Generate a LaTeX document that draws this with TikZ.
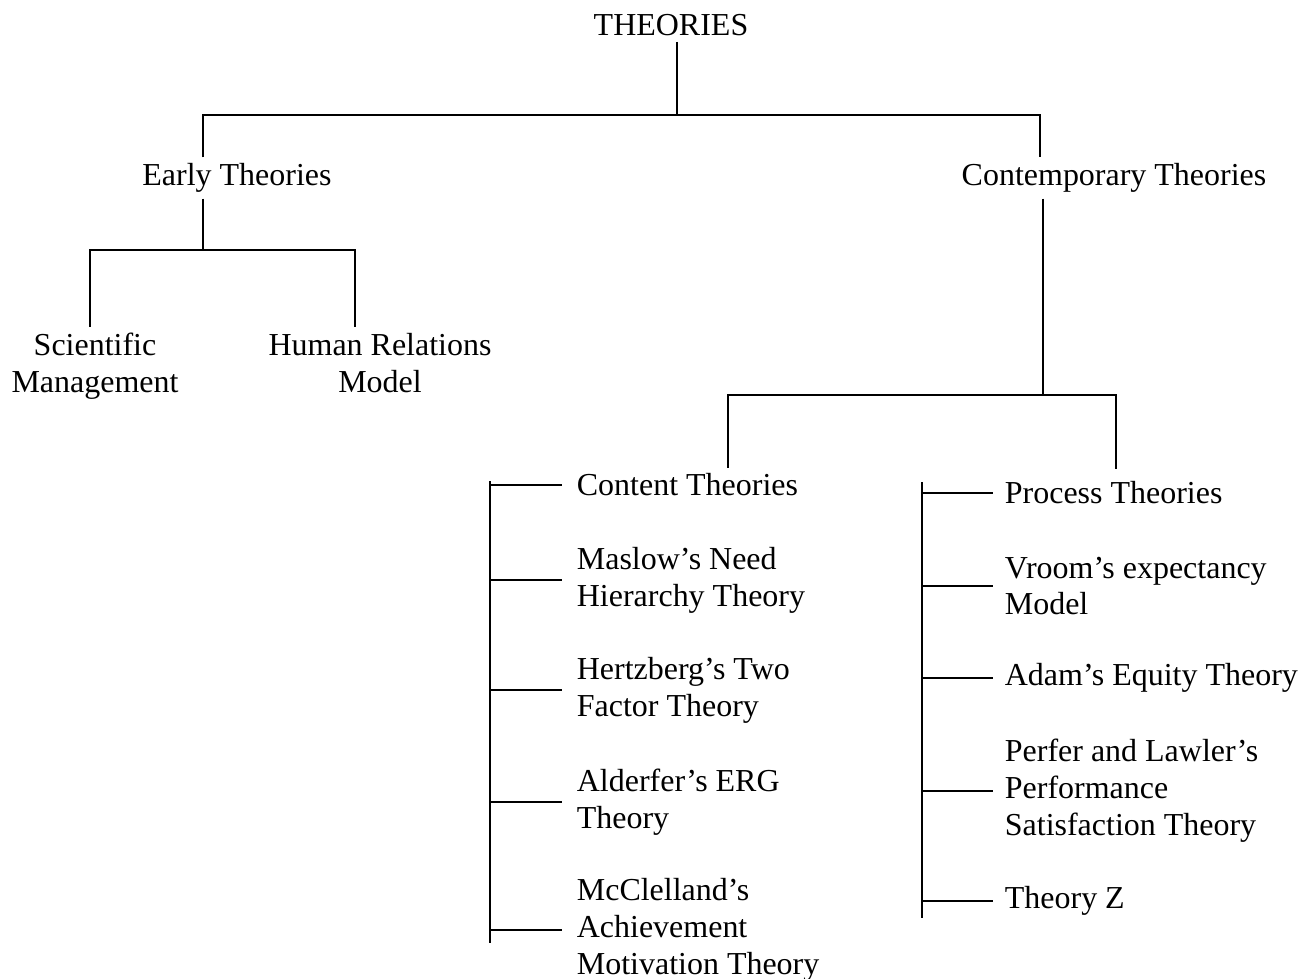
\documentclass[tikz,border=0pt]{standalone}
\usepackage{fontspec}
\setmainfont{Liberation Serif}
\usetikzlibrary{calc}

\tikzset{
	ttl/.style={inner sep=3pt, align=center, font=\fontsize{18.2}{21}\selectfont},
	leaf/.style={inner sep=0pt, anchor=west, align=left, font=\fontsize{18.2}{21}\selectfont}
}

\begin{document}
\begin{tikzpicture}[x=0.02cm,y=-0.02cm,line width=1pt]
			\useasboundingbox (0,0) rectangle (1310,979);
			%first levels
			\node[ttl] (theories) at (671,25) {THEORIES};
			\node[ttl] (early) at (237,178) {Early Theories};
			\node[ttl] (contemp) at (1114,178) {Contemporary Theories};
			\node[ttl] (sci) at (95,366) {Scientific\\Management};
			\node[ttl] (human) at (380,363) {Human Relations\\Model};
			%junctions
			\coordinate (top) at (677,115);
			\coordinate (topL) at (203,115);
			\coordinate (topR) at (1040,115);
			\coordinate (earlyJ) at (203,250);
			\coordinate (sciJ) at (90,250);
			\coordinate (humJ) at (355,250);
			\coordinate (contJ) at (1043,395);
			\coordinate (cL) at (728,395);
			\coordinate (cR) at (1116,395);
			\draw (theories.south -| top) -- (top);
			\draw (early.north -| topL) -- (topL) -- (topR) -- (contemp.north -| topR);
			\draw (early.south -| earlyJ) -- (earlyJ);
			\draw (sci.north -| sciJ) -- (sciJ) -- (humJ) -- (human.north -| humJ);
			\draw (contemp.south -| contJ) -- (contJ);
			%content theories
			\node[leaf] (c1) at (576,485) {Content Theories};
			\node[leaf] (c2) at (576,580) {Maslow’s Need\\Hierarchy Theory};
			\node[leaf] (c3) at (576,690) {Hertzberg’s Two\\Factor Theory};
			\node[leaf] (c4) at (576,802) {Alderfer’s ERG\\Theory};
			\node[leaf] (c5) at (576,930) {McClelland’s\\Achievement\\Motivation Theory};
			%process theories
			\node[leaf] (p1) at (1004,493) {Process Theories};
			\node[leaf] (p2) at (1004,586) {Vroom’s expectancy\\Model};
			\node[leaf] (p3) at (1004,678) {Adam’s Equity Theory};
			\node[leaf] (p4) at (1004,791) {Perfer and Lawler’s\\Performance\\Satisfaction Theory};
			\node[leaf] (p5) at (1004,901) {Theory Z};
			\draw ([yshift=3pt]c1.north -| cL) -- (cL) -- (cR) -- ([yshift=7pt]p1.north -| cR);
			%spines
			\coordinate (sC1) at (490,481);
			\coordinate (sC2) at (490,943);
			\coordinate (sP1) at (922,482);
			\coordinate (sP2) at (922,918);
			\draw (sC1) -- (sC2);
			\draw (sP1) -- (sP2);
			%branches
			\draw (c1.west -| sC1) -- ([xshift=-8pt]c1.west);
			\draw (c2.west -| sC1) -- ([xshift=-8pt]c2.west);
			\draw (c3.west -| sC1) -- ([xshift=-8pt]c3.west);
			\draw (c4.west -| sC1) -- ([xshift=-8pt]c4.west);
			\draw (c5.west -| sC1) -- ([xshift=-8pt]c5.west);
			\draw (p1.west -| sP1) -- ([xshift=-6pt]p1.west);
			\draw (p2.west -| sP1) -- ([xshift=-6pt]p2.west);
			\draw (p3.west -| sP1) -- ([xshift=-6pt]p3.west);
			\draw (p4.west -| sP1) -- ([xshift=-6pt]p4.west);
			\draw (p5.west -| sP1) -- ([xshift=-6pt]p5.west);
		\end{tikzpicture}
\end{document}
